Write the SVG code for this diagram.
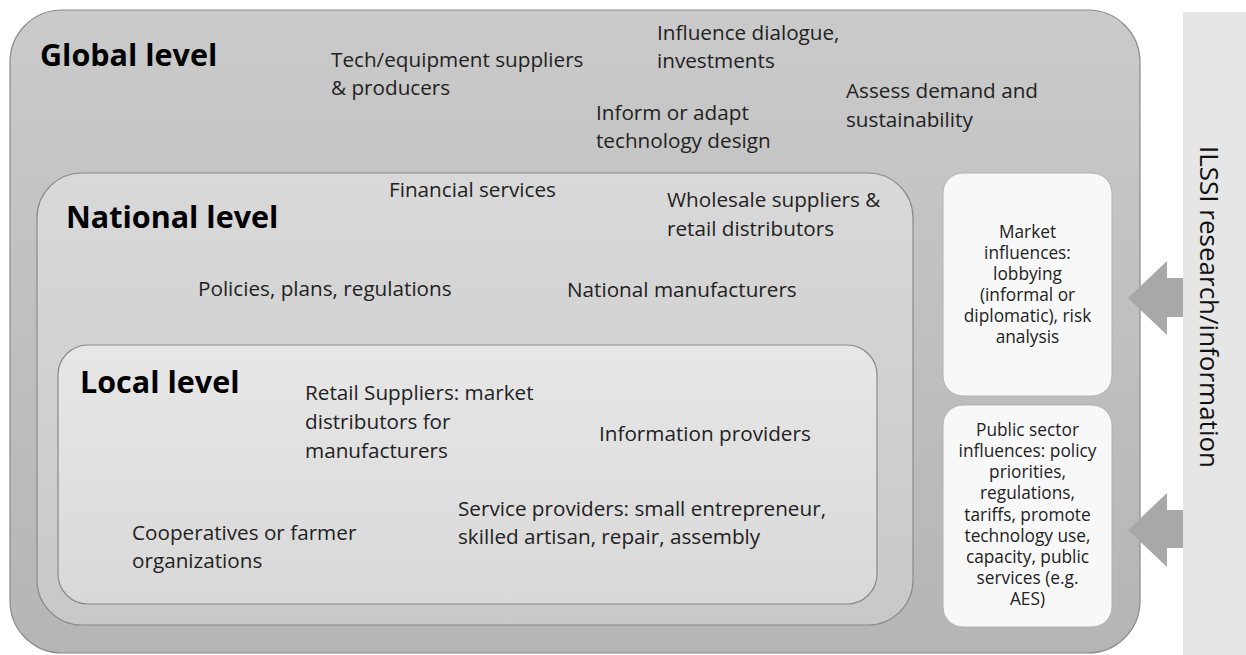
<svg xmlns="http://www.w3.org/2000/svg" width="1246" height="655" viewBox="0 0 1246 655">
  <defs>
    <linearGradient id="gGlobal" x1="0" y1="0" x2="0" y2="1">
      <stop offset="0" stop-color="#cacaca"/>
      <stop offset="1" stop-color="#b5b5b5"/>
    </linearGradient>
    <linearGradient id="gNational" x1="0" y1="0" x2="0" y2="1">
      <stop offset="0" stop-color="#d9d9d9"/>
      <stop offset="1" stop-color="#c8c8c8"/>
    </linearGradient>
    <linearGradient id="gLocal" x1="0" y1="0" x2="0" y2="1">
      <stop offset="0" stop-color="#e7e7e7"/>
      <stop offset="1" stop-color="#d8d8d8"/>
    </linearGradient>
    <style>
      .lvl { stroke: #8a8a8a; stroke-width: 1.2; }
      .side { fill: #f8f8f8; stroke: #b0b0b0; stroke-width: 1; }
      .head { font-family: "Open Sans", "Noto Sans", sans-serif; font-weight: bold; font-size: 30.5px; fill: #000; }
      .t { font-family: "Open Sans", "Noto Sans", sans-serif; font-size: 20.7px; fill: #222; }
      .s { font-family: "Open Sans", "Noto Sans", sans-serif; font-size: 17.3px; fill: #222; text-anchor: middle; }
      .bar { font-family: "Open Sans", "Noto Sans", sans-serif; font-size: 26px; fill: #111; text-anchor: middle; }
      .arrow { fill: #a8a8a8; }
    </style>
  </defs>

  <rect width="1246" height="655" fill="#ffffff"/>

  <!-- research/information bar on the right -->
  <g id="ilssi-bar">
    <rect x="1183" y="12" width="63" height="643" fill="#e6e6e6"/>
    <text class="bar" transform="translate(1200 307) rotate(90)">ILSSI research/information</text>
  </g>

  <!-- global level -->
  <g id="global-level">
    <rect class="lvl" x="10" y="10" width="1130" height="643" rx="52" ry="52" fill="url(#gGlobal)"/>
    <text class="head" x="40" y="66">Global level</text>
    <text class="t" x="331" y="67">Tech/equipment suppliers</text>
    <text class="t" x="331" y="95">&amp; producers</text>
    <text class="t" x="657" y="40">Influence dialogue,</text>
    <text class="t" x="657" y="68">investments</text>
    <text class="t" x="596" y="120">Inform or adapt</text>
    <text class="t" x="596" y="148">technology design</text>
    <text class="t" x="846" y="98">Assess demand and</text>
    <text class="t" x="846" y="127">sustainability</text>
  </g>

  <!-- national level -->
  <g id="national-level">
    <rect class="lvl" x="37" y="173" width="876" height="452" rx="45" ry="45" fill="url(#gNational)"/>
    <text class="head" x="66" y="228">National level</text>
    <text class="t" x="389" y="197">Financial services</text>
    <text class="t" x="667" y="207">Wholesale suppliers &amp;</text>
    <text class="t" x="667" y="236">retail distributors</text>
    <text class="t" x="198" y="296">Policies, plans, regulations</text>
    <text class="t" x="567" y="297">National manufacturers</text>
  </g>

  <!-- local level -->
  <g id="local-level">
    <rect class="lvl" x="58" y="345" width="819" height="259" rx="30" ry="30" fill="url(#gLocal)"/>
    <text class="head" x="80" y="393">Local level</text>
    <text class="t" x="305" y="400">Retail Suppliers: market</text>
    <text class="t" x="305" y="429">distributors for</text>
    <text class="t" x="305" y="458">manufacturers</text>
    <text class="t" x="599" y="441">Information providers</text>
    <text class="t" x="458" y="516">Service providers: small entrepreneur,</text>
    <text class="t" x="458" y="544">skilled artisan, repair, assembly</text>
    <text class="t" x="132" y="540">Cooperatives or farmer</text>
    <text class="t" x="132" y="568">organizations</text>
  </g>

  <!-- market influences box -->
  <g id="market-influences">
    <rect class="side" x="943" y="173" width="169" height="223" rx="20" ry="20"/>
    <text class="s" x="1027.5" y="238">Market</text>
    <text class="s" x="1027.5" y="259">influences:</text>
    <text class="s" x="1027.5" y="280">lobbying</text>
    <text class="s" x="1027.5" y="301">(informal or</text>
    <text class="s" x="1027.5" y="322">diplomatic), risk</text>
    <text class="s" x="1027.5" y="343">analysis</text>
  </g>

  <!-- public sector influences box -->
  <g id="public-sector-influences">
    <rect class="side" x="943" y="405" width="169" height="222" rx="20" ry="20"/>
    <text class="s" x="1027.5" y="436">Public sector</text>
    <text class="s" x="1027.5" y="457">influences: policy</text>
    <text class="s" x="1027.5" y="478">priorities,</text>
    <text class="s" x="1027.5" y="499">regulations,</text>
    <text class="s" x="1027.5" y="521">tariffs, promote</text>
    <text class="s" x="1027.5" y="542">technology use,</text>
    <text class="s" x="1027.5" y="563">capacity, public</text>
    <text class="s" x="1027.5" y="584">services (e.g.</text>
    <text class="s" x="1027.5" y="605">AES)</text>
  </g>

  <!-- block arrows from the bar into the influence boxes -->
  <g id="connectors">
    <polygon class="arrow" points="1128,298 1167,261 1167,278 1183,278 1183,317 1167,317 1167,335"/>
    <polygon class="arrow" points="1128,530 1167,493 1167,510 1183,510 1183,548 1167,548 1167,567"/>
  </g>
</svg>
